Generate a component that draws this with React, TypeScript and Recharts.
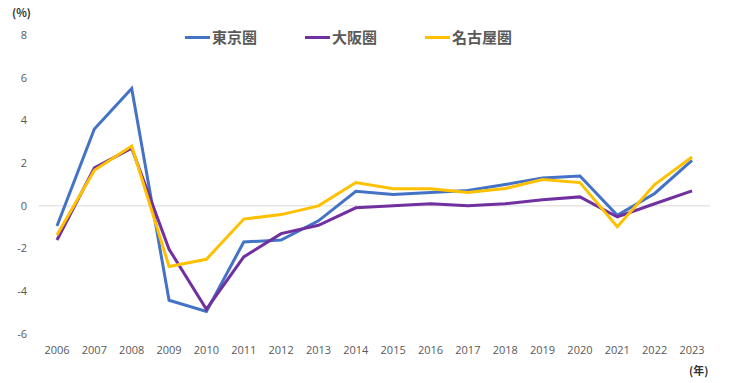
import { LineChart, Line, XAxis, YAxis, ReferenceLine } from "recharts";

const years = [
  "2006", "2007", "2008", "2009", "2010", "2011", "2012", "2013", "2014",
  "2015", "2016", "2017", "2018", "2019", "2020", "2021", "2022", "2023",
];
const tokyo = [-0.94, 3.6, 5.5, -4.42, -4.94, -1.69, -1.6, -0.7, 0.68, 0.53, 0.62, 0.72, 1.0, 1.31, 1.4, -0.44, 0.58, 2.13];
const osaka = [-1.6, 1.78, 2.7, -2.03, -4.84, -2.39, -1.3, -0.91, -0.09, 0.0, 0.1, 0.0, 0.1, 0.29, 0.42, -0.52, 0.1, 0.7];
const nagoya = [-1.36, 1.67, 2.8, -2.84, -2.5, -0.62, -0.41, 0.0, 1.09, 0.8, 0.8, 0.62, 0.81, 1.23, 1.09, -0.98, 1.0, 2.29];
const yTicks = [-6, -4, -2, 0, 2, 4, 6, 8];

const series = [
  { key: "tokyo", name: "東京圏", color: "#4472C4" },
  { key: "osaka", name: "大阪圏", color: "#7030A0" },
  { key: "nagoya", name: "名古屋圏", color: "#FFC000" },
];

const data = years.map((y, i) => ({
  year: y,
  tokyo: tokyo[i],
  osaka: osaka[i],
  nagoya: nagoya[i],
}));

const textColor = "#595959";
const tickFont = { fontSize: 11, fill: textColor, fontFamily: "'Open Sans', 'Noto Sans', sans-serif" };

function LegendBox() {
  return (
    <div style={{ position: "absolute", left: 185, top: 28, display: "flex", alignItems: "center" }}>
      {series.map((s) => (
        <div key={s.key} style={{ display: "flex", alignItems: "center", marginRight: 48 }}>
          <div style={{ width: 25, height: 3, background: s.color, marginRight: 2 }} />
          <span
            style={{
              fontSize: 15,
              fontWeight: 700,
              color: textColor,
              fontFamily: "'Noto Sans CJK JP', sans-serif",
              lineHeight: "18px",
            }}
          >
            {s.name}
          </span>
        </div>
      ))}
    </div>
  );
}

export default function App() {
  return (
    <div style={{ position: "absolute", left: 0, top: 0, width: 730, height: 383, background: "#fff" }}>
      <LineChart width={730} height={383} data={data} margin={{ top: 35, right: 20, bottom: 19, left: 0 }}>
        <XAxis
          dataKey="year"
          axisLine={false}
          tickLine={false}
          tick={tickFont}
          tickMargin={6}
          height={30}
          interval={0}
          padding={{ left: 18, right: 18 }}
        />
        <YAxis
          width={39}
          domain={[-6, 8]}
          ticks={yTicks}
          axisLine={false}
          tickLine={false}
          tick={tickFont}
          tickMargin={6}
          interval={0}
        />
        <ReferenceLine y={0} stroke="#d9d9d9" strokeWidth={1} />
        {series.map((s) => (
          <Line
            key={s.key}
            type="linear"
            dataKey={s.key}
            name={s.name}
            stroke={s.color}
            strokeWidth={3}
            dot={false}
            activeDot={false}
            isAnimationActive={false}
          />
        ))}
      </LineChart>
      <LegendBox />
      <div
        style={{
          position: "absolute",
          left: 12,
          top: 4,
          fontSize: 11,
          fontWeight: 700,
          color: "#333",
          fontFamily: "'Noto Sans CJK JP', sans-serif",
        }}
      >
        (%)
      </div>
      <div
        style={{
          position: "absolute",
          left: 689,
          top: 362,
          fontSize: 11,
          fontWeight: 700,
          color: "#333",
          fontFamily: "'Noto Sans CJK JP', sans-serif",
        }}
      >
        (年)
      </div>
    </div>
  );
}
